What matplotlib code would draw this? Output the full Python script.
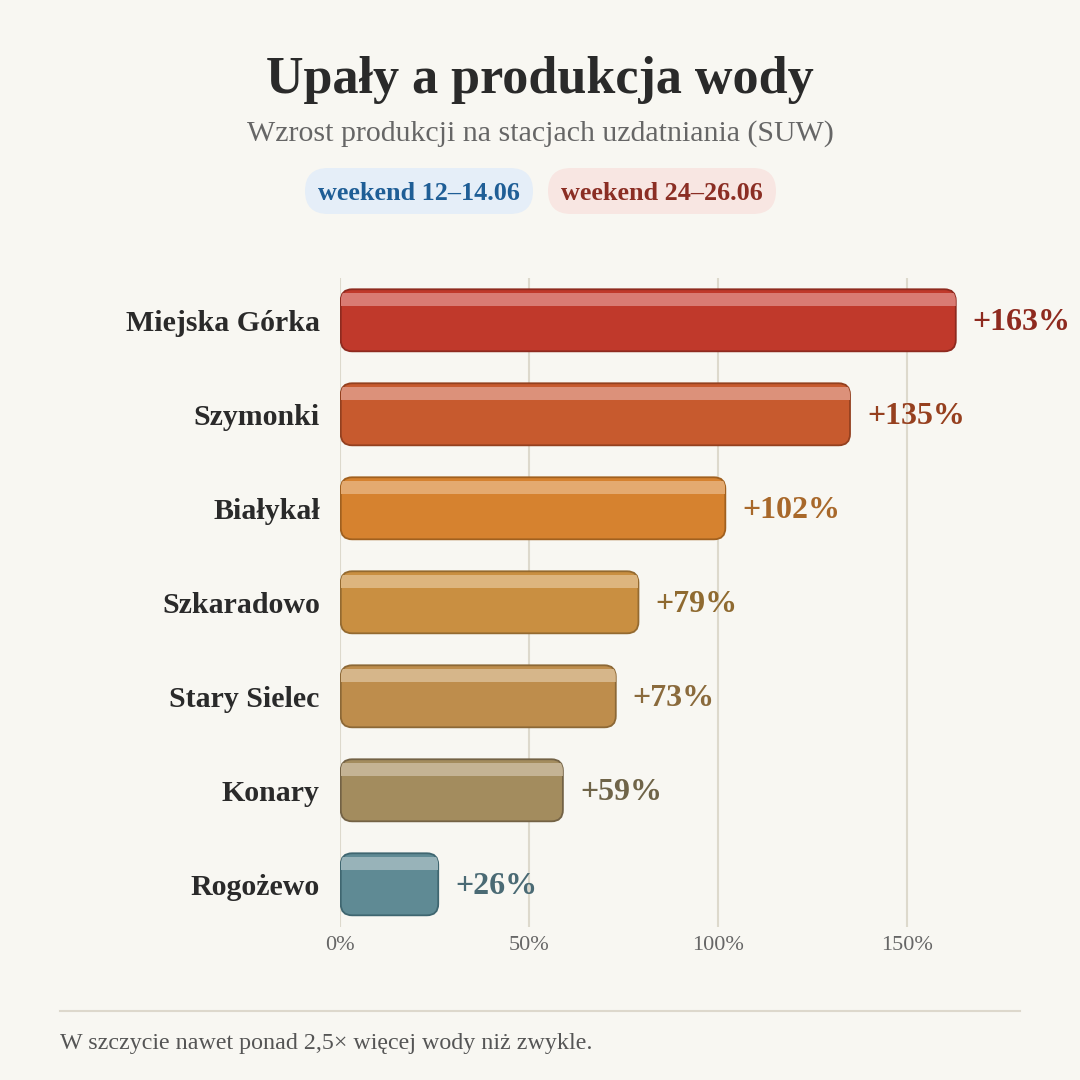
import matplotlib.pyplot as plt
from matplotlib.patches import FancyBboxPatch, Rectangle

plt.rcParams['font.family'] = ['Liberation Serif', 'DejaVu Serif']

# dane
stacje = ['Miejska Górka', 'Szymonki', 'Białykał', 'Szkaradowo', 'Stary Sielec', 'Konary', 'Rogożewo']
wzrost = [163, 135, 102, 79, 73, 59, 26]
kolory = ['#C0392B', '#C75A2E', '#D6822F', '#C98F41', '#BE8D4C', '#A38C5E', '#5F8A94']
krawedzie = ['#8E2A1F', '#93401F', '#A0601F', '#946A30', '#8C6836', '#736245', '#3F6670']
paski = ['#D97B73', '#DC917A', '#E4AA70', '#DDB57E', '#D6B68A', '#C4B394', '#98B3B9']
kolory_etykiet = ['#8E2A1F', '#96401F', '#A8682A', '#8F6A30', '#8A6A3C', '#6F6448', '#4A6A74']
ticki = [0, 50, 100, 150]

bg = '#F8F7F2'
fig = plt.figure(figsize=(10.8, 10.8), dpi=100, facecolor=bg)
ax = fig.add_axes([340 / 1080, 1 - 926.6 / 1080, 680 / 1080, 648.6 / 1080])
ax.set_facecolor(bg)
ax.set_xlim(0, 180)
ax.set_ylim(6.45, -0.45)

# skala: px na jednostke
px_x = 680 / 180
px_y = 648.6 / 6.9
aspect = px_x / px_y

for t in ticki:
    ax.axvline(t, color='#DDD9CC', lw=1.5, zorder=0)

h = 0.66
for i, (v, c, e, p, lc) in enumerate(zip(wzrost, kolory, krawedzie, paski, kolory_etykiet)):
    box = FancyBboxPatch((0.2, i - h / 2), v - 0.2, h,
                         boxstyle='round,pad=0,rounding_size=3.0',
                         mutation_aspect=aspect,
                         facecolor=c, edgecolor=e, lw=1.3, zorder=3)
    ax.add_patch(box)
    pasek = Rectangle((0.2, i - h / 2 + 4 / px_y), v - 0.2, 13 / px_y,
                      facecolor=p, edgecolor='none', zorder=4)
    pasek.set_clip_path(box)
    ax.add_patch(pasek)
    ax.text(v + 4.5, i + 2 / px_y, f'+{v}%', va='center', ha='left', fontsize=23,
            fontweight='bold', color=lc)

ax.set_yticks(range(len(stacje)))
ax.set_yticklabels(stacje, fontsize=21.5, fontweight='bold', color='#2A2A2A')
ax.set_xticks(ticki)
ax.set_xticklabels([f'{t}%' for t in ticki], fontsize=16, color='#666666')
ax.tick_params(length=0)
ax.tick_params(axis='y', pad=14.5)
ax.tick_params(axis='x', pad=7)
for s in ax.spines.values():
    s.set_visible(False)

# tytul
fig.text(0.5, 1 - 80 / 1080, 'Upały a produkcja wody', ha='center', va='center',
         fontsize=37.5, fontweight='bold', color='#2A2A2A')
fig.text(0.5, 1 - 134 / 1080, 'Wzrost produkcji na stacjach uzdatniania (SUW)',
         ha='center', va='center', fontsize=21.5, color='#666666')

# legenda w pigulkach
for xc, tekst, fc, tc in [(419, 'weekend 12–14.06', '#E5EEF8', '#1F5E96'),
                          (662, 'weekend 24–26.06', '#F8E6E2', '#8B2E24')]:
    fig.add_artist(FancyBboxPatch(((xc - 114) / 1080, 1 - 214 / 1080), 228 / 1080, 46 / 1080,
                                  boxstyle='round,pad=0,rounding_size=0.0213',
                                  transform=fig.transFigure, fc=fc, ec='none'))
    fig.text(xc / 1080, 1 - 193 / 1080, tekst, ha='center', va='center',
             fontsize=18.8, fontweight='bold', color=tc)

# stopka
fig.add_artist(plt.Line2D([60 / 1080, 1020 / 1080], [1 - 1011 / 1080] * 2,
                          color='#DDD8CC', lw=1.5))
fig.text(60 / 1080, 1 - 1044 / 1080, 'W szczycie nawet ponad 2,5× więcej wody niż zwykle.',
         ha='left', va='center', fontsize=17.3, color='#555555')

fig.savefig('out.png', dpi=100, facecolor=bg)
